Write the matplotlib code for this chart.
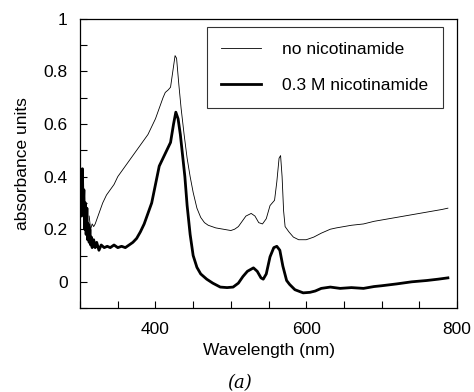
"""
    Absorbance spectra with and without nicotinamide.
"""

import matplotlib.pyplot as plt
from matplotlib.ticker import MultipleLocator

plt.rcParams['font.family'] = ['Liberation Sans', 'DejaVu Sans']

# no nicotinamide (thin line)
wl_thin = [312, 314, 316, 318, 320, 325, 330, 335, 340, 345, 350, 355, 360,
           365, 370, 375, 380, 385, 390, 395, 400, 405, 410, 413, 417, 420,
           423, 426, 428, 431, 434, 438, 442, 446, 450, 455, 460, 465, 470,
           480, 490, 500, 505, 510, 515, 520, 527, 532, 537, 542, 547, 552,
           555, 558, 561, 564, 566, 568, 570, 572, 577, 583, 590, 600, 610,
           620, 632, 640, 650, 660, 676, 690, 700, 720, 740, 760, 780, 788]
abs_thin = [0.25, 0.20, 0.22, 0.21, 0.22, 0.26, 0.30, 0.33, 0.35, 0.37, 0.40,
            0.42, 0.44, 0.46, 0.48, 0.50, 0.52, 0.54, 0.56, 0.59, 0.62, 0.66,
            0.70, 0.72, 0.73, 0.74, 0.80, 0.86, 0.85, 0.75, 0.66, 0.56, 0.47,
            0.40, 0.34, 0.28, 0.245, 0.225, 0.215, 0.205, 0.20, 0.195, 0.20,
            0.21, 0.23, 0.25, 0.26, 0.25, 0.225, 0.22, 0.24, 0.29, 0.30, 0.31,
            0.38, 0.47, 0.48, 0.40, 0.27, 0.21, 0.19, 0.17, 0.16, 0.16, 0.17,
            0.185, 0.20, 0.205, 0.21, 0.215, 0.22, 0.23, 0.235, 0.245, 0.255,
            0.265, 0.275, 0.28]

# 0.3 M nicotinamide (thick line)
wl_thick = [300, 301, 302, 303, 304, 305, 306, 307, 308, 309, 310, 311, 312,
            313, 314, 315, 316, 318, 320, 322, 325, 328, 332, 336, 340, 345,
            350, 355, 360, 365, 370, 375, 380, 385, 390, 395, 400, 405, 410,
            415, 420, 424, 427, 430, 433, 436, 439, 442, 446, 450, 455, 460,
            468, 476, 486, 495, 503, 510, 516, 522, 530, 535, 540, 543, 547,
            552, 557, 561, 565, 569, 574, 578, 585, 596, 605, 612, 620, 632,
            645, 660, 676, 690, 700, 720, 740, 760, 775, 788]
abs_thick = [0.30, 0.40, 0.25, 0.43, 0.28, 0.35, 0.20, 0.30, 0.18, 0.28, 0.16,
             0.22, 0.15, 0.20, 0.14, 0.17, 0.13, 0.16, 0.13, 0.15, 0.12, 0.14,
             0.13, 0.135, 0.13, 0.14, 0.13, 0.135, 0.13, 0.14, 0.15, 0.165,
             0.19, 0.22, 0.26, 0.30, 0.37, 0.44, 0.47, 0.50, 0.53, 0.60, 0.645,
             0.62, 0.56, 0.48, 0.40, 0.29, 0.18, 0.10, 0.055, 0.03, 0.01,
             -0.005, -0.02, -0.022, -0.02, -0.005, 0.02, 0.04, 0.053, 0.04,
             0.015, 0.01, 0.03, 0.095, 0.13, 0.135, 0.12, 0.06, 0.005, -0.01,
             -0.03, -0.042, -0.04, -0.035, -0.025, -0.02, -0.025, -0.022,
             -0.025, -0.018, -0.015, -0.008, 0.0, 0.005, 0.01, 0.015]

fig = plt.figure(figsize=(4.74, 3.92), dpi=100)
ax = fig.add_axes([0.169, 0.214, 0.795, 0.738])

ax.plot(wl_thin, abs_thin, color='black', lw=0.6, label='no nicotinamide')
ax.plot(wl_thick, abs_thick, color='black', lw=2.0, label='0.3 M nicotinamide')

ax.set_xlim(300, 800)
ax.set_ylim(-0.1, 1.0)
ax.xaxis.set_major_locator(MultipleLocator(200))
ax.xaxis.set_minor_locator(MultipleLocator(50))
ax.yaxis.set_major_locator(MultipleLocator(0.2))
ax.yaxis.set_minor_locator(MultipleLocator(0.1))
ax.yaxis.set_major_formatter(plt.FuncFormatter(lambda v, p: f"{v:g}"))
ax.tick_params(which='both', direction='in', length=5, width=0.8,
               labelsize=12.5)
ax.tick_params(axis='x', pad=10)
ax.tick_params(axis='y', pad=9)
for s in ax.spines.values():
    s.set_linewidth(0.9)

ax.set_xlabel('Wavelength (nm)', fontsize=12.5, labelpad=4)
ax.set_ylabel('absorbance units', fontsize=12.5, labelpad=10)

leg = ax.legend(loc='upper right', bbox_to_anchor=(0.963, 0.972),
                borderaxespad=0, fontsize=12.5, fancybox=False,
                edgecolor='black', handlelength=2.3, borderpad=0.85,
                labelspacing=1.2, handletextpad=1.2)
leg.get_frame().set_linewidth(0.8)

fig.text(0.505, 0.01, '(a)', fontsize=13, style='italic',
         family='DejaVu Serif', ha='center')

plt.savefig('out.png', dpi=100)
